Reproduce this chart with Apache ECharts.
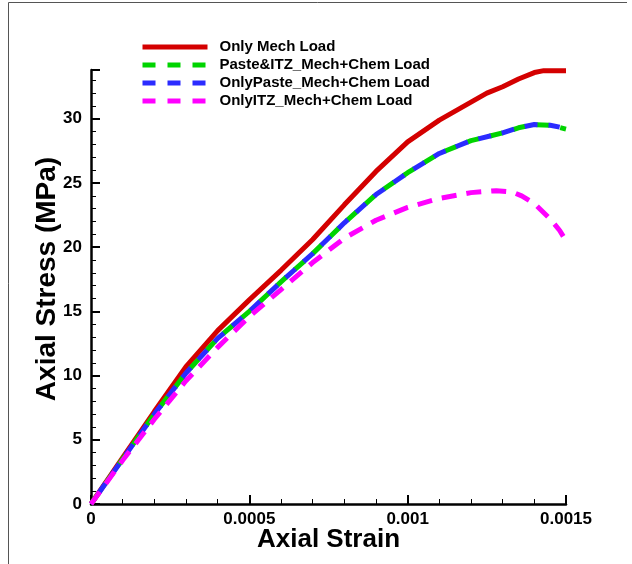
<!DOCTYPE html>
<html>
<head>
<meta charset="utf-8">
<script src="https://cdn.jsdelivr.net/npm/echarts@6/dist/echarts.min.js"></script>
<style>
html,body{margin:0;padding:0;background:#fff;}
#c{width:632px;height:564px;}
</style>
</head>
<body>
<div id="c"></div>
<script>
// Data (strain, stress MPa)
const seriesNames = ["Only Mech Load", "Paste&ITZ_Mech+Chem Load", "OnlyPaste_Mech+Chem Load", "OnlyITZ_Mech+Chem Load"];
const onlyMechStrain = [0, 0.0001, 0.0002, 0.0003, 0.0004, 0.0005, 0.0006, 0.0007, 0.0008, 0.0009, 0.001, 0.0011, 0.0012, 0.00125, 0.0013, 0.00135, 0.0014, 0.00143, 0.0015];
const onlyMechStress = [0, 3.6, 7.2, 10.7, 13.5, 15.9, 18.2, 20.6, 23.3, 25.9, 28.2, 29.9, 31.3, 32.0, 32.5, 33.1, 33.6, 33.75, 33.75];
const pasteItzStrain = [0, 0.0001, 0.0002, 0.0003, 0.0004, 0.0005, 0.0006, 0.0007, 0.0008, 0.0009, 0.001, 0.0011, 0.0012, 0.0013, 0.00135, 0.0014, 0.00145, 0.0015];
const pasteItzStress = [0, 3.5, 7.0, 10.2, 12.9, 15.0, 17.3, 19.5, 21.9, 24.1, 25.8, 27.3, 28.3, 28.9, 29.3, 29.55, 29.5, 29.2];
const onlyPasteStrain = [0, 0.0001, 0.0002, 0.0003, 0.0004, 0.0005, 0.0006, 0.0007, 0.0008, 0.0009, 0.001, 0.0011, 0.0012, 0.0013, 0.00135, 0.0014, 0.00145, 0.00148];
const onlyPasteStress = [0, 3.5, 7.0, 10.2, 12.9, 15.0, 17.3, 19.5, 21.9, 24.1, 25.8, 27.3, 28.3, 28.9, 29.3, 29.55, 29.5, 29.35];
const onlyItzStrain = [0, 0.0001, 0.0002, 0.0003, 0.0004, 0.0005, 0.0006, 0.0007, 0.0008, 0.0009, 0.00095, 0.001, 0.0011, 0.0012, 0.00128, 0.00133, 0.00136, 0.0014, 0.00145, 0.00148, 0.0015];
const onlyItzStress = [0, 3.4, 6.6, 9.6, 12.2, 14.6, 16.7, 18.8, 20.7, 22.1, 22.6, 23.1, 23.8, 24.25, 24.4, 24.3, 24.0, 23.4, 22.2, 21.3, 20.5];
const xTicks = [0, 0.0005, 0.001, 0.0015];
const yTicks = [0, 5, 10, 15, 20, 25, 30];

function pairs(xs, ys) { return xs.map((x, i) => [x, ys[i]]); }

const FONT = '"Liberation Sans", Arial, Helvetica, sans-serif';
const colors = ['#d40000', '#00d400', '#2b2bff', '#ff00ff'];
const legendDash = [null, [13, 12], [13, 12], [13, 12]];

const chart = echarts.init(document.getElementById('c'));
chart.setOption({
  animation: false,
  backgroundColor: '#fff',
  grid: { left: 91, right: 66, top: 70, bottom: 60, containLabel: false },
  legend: {
    orient: 'vertical',
    left: 140,
    top: 38,
    padding: 0,
    itemWidth: 65,
    itemHeight: 5,
    itemGap: 0,
    itemStyle: { opacity: 0 },
    lineStyle: { width: 5 },
    textStyle: { fontFamily: FONT, fontWeight: 'bold', fontSize: 15, color: '#000', lineHeight: 18, padding: [0, 0, 0, 7] },
    data: seriesNames.map((n, i) => ({ name: n, lineStyle: { width: 5, type: legendDash[i] || 'solid', dashOffset: 0 } }))
  },
  xAxis: {
    type: 'value',
    min: 0, max: 0.0015, interval: 0.0005,
    name: 'Axial Strain', nameLocation: 'middle', nameGap: 23, nameMoveOverlap: false,
    nameTextStyle: { fontFamily: FONT, fontWeight: 'bold', fontSize: 26, color: '#000' },
    axisLine: { onZero: false, lineStyle: { color: '#000', width: 2.5 } },
    axisTick: { inside: true, length: 9, lineStyle: { color: '#000', width: 2 } },
    minorTick: { show: true, splitNumber: 5, length: 5, lineStyle: { color: '#000', width: 1 } },
    splitLine: { show: false },
    axisLabel: { fontFamily: FONT, fontWeight: 'bold', fontSize: 17, color: '#000', margin: 7,
      formatter: v => { const s = xTicks.find(t => Math.abs(t - v) < 1e-9); return s === undefined ? '' : String(s); } }
  },
  yAxis: {
    type: 'value',
    min: 0, max: 33.8, interval: 5,
    name: 'Axial Stress (MPa)', nameLocation: 'middle', nameGap: 30, nameMoveOverlap: false,
    nameTextStyle: { fontFamily: FONT, fontWeight: 'bold', fontSize: 28, color: '#000', padding: [0, 0, 0, 16] },
    axisLine: { onZero: false, lineStyle: { color: '#000', width: 2.5 } },
    axisTick: { inside: true, length: 9, lineStyle: { color: '#000', width: 2 } },
    minorTick: { show: true, splitNumber: 5, length: 5, lineStyle: { color: '#000', width: 1 } },
    splitLine: { show: false },
    axisLabel: { fontFamily: FONT, fontWeight: 'bold', fontSize: 17, color: '#000', margin: 9,
      showMaxLabel: false,
      formatter: v => (yTicks.indexOf(v) >= 0 ? String(v) : '') }
  },
  series: [
    { name: seriesNames[0], type: 'line', data: pairs(onlyMechStrain, onlyMechStress), showSymbol: false, symbol: 'none',
      lineStyle: { color: colors[0], width: 5 }, itemStyle: { color: colors[0] } },
    { name: seriesNames[1], type: 'line', data: pairs(pasteItzStrain, pasteItzStress), showSymbol: false, symbol: 'none',
      lineStyle: { color: colors[1], width: 5, type: [13, 11] }, itemStyle: { color: colors[1] } },
    { name: seriesNames[2], type: 'line', data: pairs(onlyPasteStrain, onlyPasteStress), showSymbol: false, symbol: 'none',
      lineStyle: { color: colors[2], width: 5, type: [13, 11], dashOffset: 12 }, itemStyle: { color: colors[2] } },
    { name: seriesNames[3], type: 'line', data: pairs(onlyItzStrain, onlyItzStress), showSymbol: false, symbol: 'none',
      lineStyle: { color: colors[3], width: 5, type: [15, 10] }, itemStyle: { color: colors[3] } }
  ],
  graphic: [
    { type: 'line', shape: { x1: 8.5, y1: 2.5, x2: 8.5, y2: 564 }, style: { stroke: '#555', lineWidth: 1 }, silent: true },
    { type: 'line', shape: { x1: 8.5, y1: 2.5, x2: 627, y2: 2.5 }, style: { stroke: '#555', lineWidth: 1 }, silent: true }
  ]
});
</script>
</body>
</html>
